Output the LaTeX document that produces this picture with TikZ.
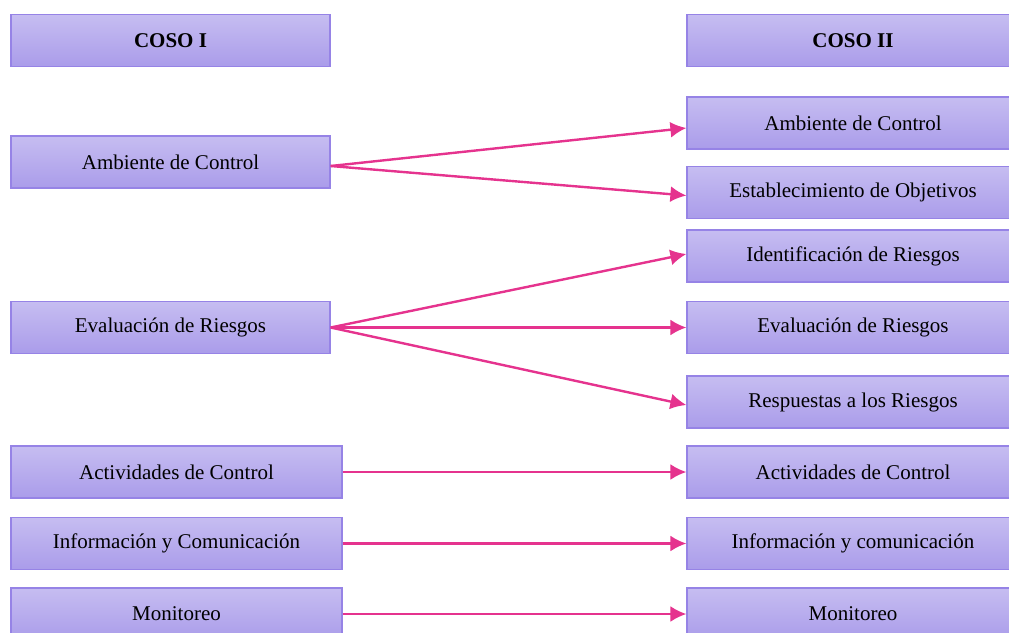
\documentclass[tikz,border=0pt]{standalone}
\usepackage{fontspec}
\setmainfont{Liberation Serif}
\usepackage{tikz}
\usetikzlibrary{arrows.meta}
\definecolor{boxtop}{HTML}{C6BDF1}
\definecolor{boxbot}{HTML}{AA9CEA}
\definecolor{boxline}{HTML}{9683E6}
\definecolor{arrowpink}{HTML}{E5338E}

\begin{document}
\begin{tikzpicture}[x=0.5pt,y=-0.5pt,
	cbox/.style={rectangle,draw=boxline,line width=0.6pt,top color=boxtop,bottom color=boxbot,minimum height=26pt,inner sep=0pt,font=\fontsize{10.5}{12.6}\selectfont},
	lbox/.style={cbox,minimum width=159.5pt},
	wbox/.style={cbox,minimum width=165.5pt},
	rbox/.style={cbox,minimum width=166pt},
	link/.style={draw=arrowpink,line width=1.2pt,-{Latex[length=8pt,width=8pt]}}]
	\useasboundingbox (0,0) rectangle (1009,633);
	\clip (0,0) rectangle (1009,633);
	% COSO I
	\node[lbox] (cosoI) at (170.5,40.5) {\textbf{COSO I}};
	\node[lbox] (ambL) at (170.5,162) {Ambiente de Control};
	\node[lbox] (evalL) at (170.5,327.5) {Evaluación de Riesgos};
	\node[wbox] (actL) at (176.5,472) {Actividades de Control};
	\node[wbox] (infoL) at (176.5,543.5) {Información y Comunicación};
	\node[wbox] (monL) at (176.5,614) {Monitoreo};
	% COSO II
	\node[rbox] (cosoII) at (853,40.5) {\textbf{COSO II}};
	\node[rbox] (ambR) at (853,123) {Ambiente de Control};
	\node[rbox] (objR) at (853,192.5) {Establecimiento de Objetivos};
	\node[rbox] (idR) at (853,256) {Identificación de Riesgos};
	\node[rbox] (evalR) at (853,327.5) {Evaluación de Riesgos};
	\node[rbox] (respR) at (853,402) {Respuestas a los Riesgos};
	\node[rbox] (actR) at (853,472) {Actividades de Control};
	\node[rbox] (infoR) at (853,543.5) {Información y comunicación};
	\node[rbox] (monR) at (853,614) {Monitoreo};
	% flechas
	\draw[link] ([yshift=-2pt]ambL.east) -- ([yshift=-2.5pt]ambR.west);
	\draw[link] ([yshift=-2pt]ambL.east) -- ([yshift=-1.5pt]objR.west);
	\draw[link] (evalL.east) -- ([yshift=1pt]idR.west);
	\draw[link] (evalL.east) -- (evalR.west);
	\draw[link] (evalL.east) -- ([yshift=-1.5pt]respR.west);
	\draw[link] (actL) -- (actR);
	\draw[link] (infoL) -- (infoR);
	\draw[link] (monL) -- (monR);
\end{tikzpicture}
\end{document}
